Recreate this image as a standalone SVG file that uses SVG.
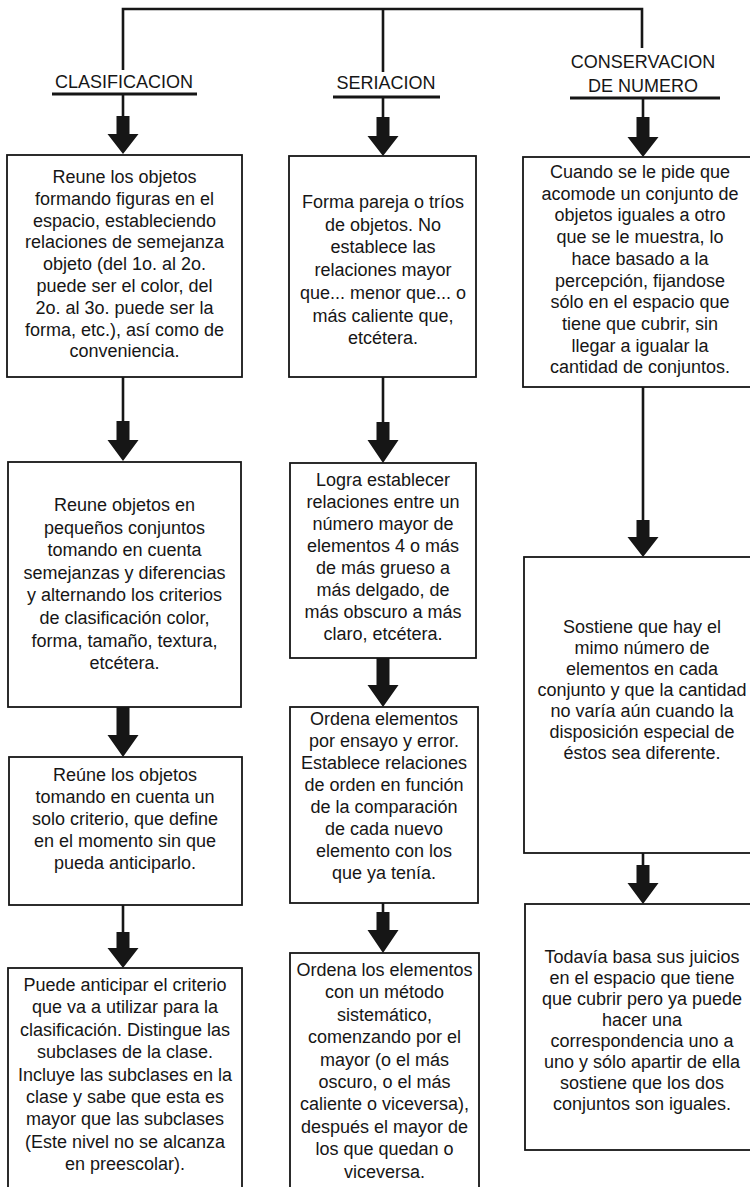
<svg xmlns="http://www.w3.org/2000/svg" width="750" height="1187" viewBox="0 0 750 1187">
<style>
.t{font-family:"Liberation Sans",Arial,Helvetica,sans-serif;font-size:18px;fill:#161616;text-anchor:middle}
.h{font-family:"Liberation Sans",Arial,Helvetica,sans-serif;font-size:18px;fill:#161616;text-anchor:middle}
.box{fill:#fff;stroke:#161616;stroke-width:1.8}
.ln{fill:none;stroke:#161616;stroke-width:2.6}
.ul{fill:none;stroke:#161616;stroke-width:3.2}
.ar{fill:#161616;stroke:none}
</style>
<rect width="750" height="1187" fill="#fff"/>
<g id="connectors">
<polyline class="ln" points="123,70 123,9 642,9 642,48"/>
<line class="ln" x1="383" y1="9" x2="383" y2="72"/>
<line class="ul" x1="52" y1="94" x2="197" y2="94"/>
<line class="ul" x1="333" y1="97" x2="440" y2="97"/>
<line class="ul" x1="570" y1="98" x2="720" y2="98"/>
<!-- column 1 -->
<line class="ln" x1="123" y1="94" x2="123" y2="118"/>
<path class="ar" d="M116.5,116 H129.5 V134 H138.5 L123,154 L107.5,134 H116.5 Z"/>
<line class="ln" x1="123" y1="377" x2="123" y2="423"/>
<path class="ar" d="M116.5,421 H129.5 V440 H138.5 L123,461 L107.5,440 H116.5 Z"/>
<path class="ar" d="M116.5,707 H129.5 V735 H138.5 L123,757 L107.5,735 H116.5 Z"/>
<line class="ln" x1="123" y1="905" x2="123" y2="934"/>
<path class="ar" d="M116.5,932 H129.5 V948 H138.5 L123,968 L107.5,948 H116.5 Z"/>
<!-- column 2 -->
<line class="ln" x1="383" y1="97" x2="383" y2="119"/>
<path class="ar" d="M376.5,117 H389.5 V136 H398.5 L383,156 L367.5,136 H376.5 Z"/>
<line class="ln" x1="383" y1="377" x2="383" y2="424"/>
<path class="ar" d="M376.5,422 H389.5 V440 H398.5 L383,463 L367.5,440 H376.5 Z"/>
<path class="ar" d="M376.5,658 H389.5 V685 H398.5 L383,707 L367.5,685 H376.5 Z"/>
<line class="ln" x1="383" y1="903" x2="383" y2="914"/>
<path class="ar" d="M376.5,912 H389.5 V930 H398.5 L383,953 L367.5,930 H376.5 Z"/>
<!-- column 3 -->
<line class="ln" x1="643" y1="98" x2="643" y2="119"/>
<path class="ar" d="M636.5,117 H649.5 V137 H658.5 L643,157 L627.5,137 H636.5 Z"/>
<line class="ln" x1="643" y1="387" x2="643" y2="522"/>
<path class="ar" d="M636.5,520 H649.5 V537 H658.5 L643,557 L627.5,537 H636.5 Z"/>
<line class="ln" x1="643" y1="853" x2="643" y2="867"/>
<path class="ar" d="M636.5,865 H649.5 V883 H658.5 L643,904 L627.5,883 H636.5 Z"/>
</g>
<g id="h-clasificacion"><text class="h" x="124" y="88">CLASIFICACION</text></g>
<g id="h-seriacion"><text class="h" x="386" y="89">SERIACION</text></g>
<g id="h-conservacion"><text class="h" x="643" y="68">CONSERVACION</text><text class="h" x="643" y="92">DE NUMERO</text></g>

<g id="c1b1"><rect class="box" x="7" y="155" width="235" height="222"/>
<text class="t" y="183"><tspan x="124.5">Reune los objetos</tspan><tspan x="124.5" dy="21.8">formando figuras en el</tspan><tspan x="124.5" dy="21.8">espacio, estableciendo</tspan><tspan x="124.5" dy="21.8">relaciones de semejanza</tspan><tspan x="124.5" dy="21.8">objeto (del 1o. al 2o.</tspan><tspan x="124.5" dy="21.8">puede ser el color, del</tspan><tspan x="124.5" dy="21.8">2o. al 3o. puede ser la</tspan><tspan x="124.5" dy="21.8">forma, etc.), así como de</tspan><tspan x="124.5" dy="21.8">conveniencia.</tspan></text></g>

<g id="c1b2"><rect class="box" x="8" y="462" width="233" height="245"/>
<text class="t" y="511"><tspan x="124.5">Reune objetos en</tspan><tspan x="124.5" dy="22.6">pequeños conjuntos</tspan><tspan x="124.5" dy="22.6">tomando en cuenta</tspan><tspan x="124.5" dy="22.6">semejanzas y diferencias</tspan><tspan x="124.5" dy="22.6">y alternando los criterios</tspan><tspan x="124.5" dy="22.6">de clasificación color,</tspan><tspan x="124.5" dy="22.6">forma, tamaño, textura,</tspan><tspan x="124.5" dy="22.6">etcétera.</tspan></text></g>

<g id="c1b3"><rect class="box" x="9" y="757" width="233" height="148"/>
<text class="t" y="781"><tspan x="125">Reúne los objetos</tspan><tspan x="125" dy="22">tomando en cuenta un</tspan><tspan x="125" dy="22">solo criterio, que define</tspan><tspan x="125" dy="22">en el momento sin que</tspan><tspan x="125" dy="22">pueda anticiparlo.</tspan></text></g>

<g id="c1b4"><rect class="box" x="8" y="968" width="234" height="240"/>
<text class="t" y="991"><tspan x="125">Puede anticipar el criterio</tspan><tspan x="125" dy="22.4">que va a utilizar para la</tspan><tspan x="125" dy="22.4">clasificación. Distingue las</tspan><tspan x="125" dy="22.4">subclases de la clase.</tspan><tspan x="125" dy="22.4">Incluye las subclases en la</tspan><tspan x="125" dy="22.4">clase y sabe que esta es</tspan><tspan x="125" dy="22.4">mayor que las subclases</tspan><tspan x="125" dy="22.4">(Este nivel no se alcanza</tspan><tspan x="125" dy="22.4">en preescolar).</tspan></text></g>

<g id="c2b1"><rect class="box" x="289" y="156" width="187" height="221"/>
<text class="t" y="208"><tspan x="383">Forma pareja o tríos</tspan><tspan x="383" dy="22.7">de objetos. No</tspan><tspan x="383" dy="22.7">establece las</tspan><tspan x="383" dy="22.7">relaciones mayor</tspan><tspan x="383" dy="22.7">que... menor que... o</tspan><tspan x="383" dy="22.7">más caliente que,</tspan><tspan x="383" dy="22.7">etcétera.</tspan></text></g>

<g id="c2b2"><rect class="box" x="290" y="463" width="186" height="195"/>
<text class="t" y="486"><tspan x="383">Logra establecer</tspan><tspan x="383" dy="22">relaciones entre un</tspan><tspan x="383" dy="22">número mayor de</tspan><tspan x="383" dy="22">elementos 4 o más</tspan><tspan x="383" dy="22">de más grueso a</tspan><tspan x="383" dy="22">más delgado, de</tspan><tspan x="383" dy="22">más obscuro a más</tspan><tspan x="383" dy="22">claro, etcétera.</tspan></text></g>

<g id="c2b3"><rect class="box" x="290" y="707" width="188" height="196"/>
<text class="t" y="725"><tspan x="384">Ordena elementos</tspan><tspan x="384" dy="22">por ensayo y error.</tspan><tspan x="384" dy="22">Establece relaciones</tspan><tspan x="384" dy="22">de orden en función</tspan><tspan x="384" dy="22">de la comparación</tspan><tspan x="384" dy="22">de cada nuevo</tspan><tspan x="384" dy="22">elemento con los</tspan><tspan x="384" dy="22">que ya tenía.</tspan></text></g>

<g id="c2b4"><rect class="box" x="290" y="953" width="189" height="255"/>
<text class="t" y="976"><tspan x="384.5">Ordena los elementos</tspan><tspan x="384.5" dy="22.4">con un método</tspan><tspan x="384.5" dy="22.4">sistemático,</tspan><tspan x="384.5" dy="22.4">comenzando por el</tspan><tspan x="384.5" dy="22.4">mayor (o el más</tspan><tspan x="384.5" dy="22.4">oscuro, o el más</tspan><tspan x="384.5" dy="22.4">caliente o viceversa),</tspan><tspan x="384.5" dy="22.4">después el mayor de</tspan><tspan x="384.5" dy="22.4">los que quedan o</tspan><tspan x="384.5" dy="22.4">viceversa.</tspan></text></g>

<g id="c3b1"><rect class="box" x="523" y="157" width="240" height="230"/>
<text class="t" y="178"><tspan x="640">Cuando se le pide que</tspan><tspan x="640" dy="21.7">acomode un conjunto de</tspan><tspan x="640" dy="21.7">objetos iguales a otro</tspan><tspan x="640" dy="21.7">que se le muestra, lo</tspan><tspan x="640" dy="21.7">hace basado a la</tspan><tspan x="640" dy="21.7">percepción, fijandose</tspan><tspan x="640" dy="21.7">sólo en el espacio que</tspan><tspan x="640" dy="21.7">tiene que cubrir, sin</tspan><tspan x="640" dy="21.7">llegar a igualar la</tspan><tspan x="640" dy="21.7">cantidad de conjuntos.</tspan></text></g>

<g id="c3b2"><rect class="box" x="524" y="557" width="240" height="296"/>
<text class="t" y="633"><tspan x="642">Sostiene que hay el</tspan><tspan x="642" dy="21">mimo número de</tspan><tspan x="642" dy="21">elementos en cada</tspan><tspan x="642" dy="21">conjunto y que la cantidad</tspan><tspan x="642" dy="21">no varía aún cuando la</tspan><tspan x="642" dy="21">disposición especial de</tspan><tspan x="642" dy="21">éstos sea diferente.</tspan></text></g>

<g id="c3b3"><rect class="box" x="525" y="904" width="240" height="246"/>
<text class="t" y="963"><tspan x="642">Todavía basa sus juicios</tspan><tspan x="642" dy="21">en el espacio que tiene</tspan><tspan x="642" dy="21">que cubrir pero ya puede</tspan><tspan x="642" dy="21">hacer una</tspan><tspan x="642" dy="21">correspondencia uno a</tspan><tspan x="642" dy="21">uno y sólo apartir de ella</tspan><tspan x="642" dy="21">sostiene que los dos</tspan><tspan x="642" dy="21">conjuntos son iguales.</tspan></text></g>
</svg>
